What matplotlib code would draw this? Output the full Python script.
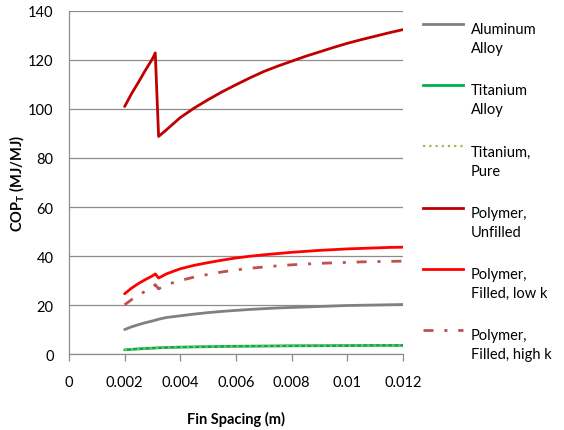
import matplotlib
matplotlib.use("Agg")
import matplotlib.pyplot as plt
from matplotlib.lines import Line2D

plt.rcParams['font.family'] = ['Lato', 'DejaVu Sans']

# Fin spacing (m) and COP_T (MJ/MJ) for each fin material
x_main = [0.002, 0.00225, 0.0025, 0.00275, 0.003, 0.0031, 0.00322, 0.0035,
          0.004, 0.0045, 0.005, 0.0055, 0.006, 0.0065, 0.007, 0.0075,
          0.008, 0.0085, 0.009, 0.0095, 0.010, 0.0105, 0.011, 0.0115, 0.012]

aluminum_alloy = [10.0, 11.1, 12.0, 12.8, 13.5, 13.8, 14.2, 14.9,
                  15.6, 16.3, 16.9, 17.4, 17.8, 18.2, 18.5, 18.8,
                  19.0, 19.2, 19.4, 19.6, 19.8, 19.9, 20.0, 20.1, 20.2]
titanium_alloy = [1.7, 1.9, 2.1, 2.25, 2.4, 2.45, 2.55, 2.65,
                  2.8, 2.9, 3.0, 3.08, 3.15, 3.2, 3.25, 3.3,
                  3.35, 3.38, 3.4, 3.43, 3.45, 3.47, 3.5, 3.5, 3.5]
titanium_pure = [1.7, 1.9, 2.1, 2.25, 2.4, 2.45, 2.55, 2.65,
                 2.8, 2.9, 3.0, 3.08, 3.15, 3.2, 3.25, 3.3,
                 3.35, 3.38, 3.4, 3.43, 3.45, 3.47, 3.5, 3.5, 3.5]
polymer_unfilled = [101.0, 106.3, 111.0, 115.9, 120.5, 122.9, 88.8, 91.5,
                    96.5, 100.4, 103.8, 107.0, 109.9, 112.7, 115.3, 117.5,
                    119.5, 121.5, 123.3, 125.1, 126.8, 128.3, 129.7, 131.1, 132.4]
polymer_low_k = [24.6, 26.9, 28.8, 30.4, 31.9, 32.7, 31.0, 32.7,
                 34.8, 36.2, 37.3, 38.3, 39.2, 39.9, 40.5, 41.0,
                 41.5, 41.9, 42.3, 42.6, 42.9, 43.1, 43.3, 43.5, 43.6]
polymer_high_k = [20.1, 22.2, 24.0, 25.7, 27.3, 28.3, 26.6, 28.3,
                  30.0, 31.4, 32.5, 33.5, 34.3, 35.0, 35.5, 36.0,
                  36.4, 36.7, 37.0, 37.2, 37.4, 37.6, 37.7, 37.8, 37.9]

labels = ["Aluminum\nAlloy", "Titanium\nAlloy", "Titanium,\nPure",
          "Polymer,\nUnfilled", "Polymer,\nFilled, low k", "Polymer,\nFilled, high k"]
colors = ["#808080", "#00B050", "#9BBB59", "#C00000", "#FF0000", "#C0504D"]
styles = ["-", "-", (0, (1, 1.8)), "-", "-", (0, (3.6, 3.9, 1.1, 3.9))]
widths = [2.0, 2.0, 1.6, 2.0, 2.0, 2.0]
series = [aluminum_alloy, titanium_alloy, titanium_pure,
          polymer_unfilled, polymer_low_k, polymer_high_k]

x_ticks = [0, 0.002, 0.004, 0.006, 0.008, 0.01, 0.012]
x_tick_labels = ["0", "0.002", "0.004", "0.006", "0.008", "0.01", "0.012"]
y_ticks = [0, 20, 40, 60, 80, 100, 120, 140]

fig = plt.figure(figsize=(5.64, 4.31), dpi=100)
ax = fig.add_axes([0.1223, 0.1763, 0.5922, 0.7959])

for ys, c, ls, lw in zip(series, colors, styles, widths):
    ax.plot(x_main, ys, color=c, linestyle=ls, linewidth=lw,
            solid_capstyle='round', solid_joinstyle='round',
            dash_capstyle='butt', zorder=3)

ax.set_xlim(0, 0.012)
ax.set_ylim(0, 140)
ax.set_xticks(x_ticks)
ax.set_xticklabels(x_tick_labels)
ax.set_yticks(y_ticks)
ax.grid(axis='y', color='#8c8c8c', linewidth=0.9, zorder=0)
ax.set_axisbelow(True)
for s in ('top', 'right'):
    ax.spines[s].set_visible(False)
for s in ('left', 'bottom'):
    ax.spines[s].set_color('#8c8c8c')
    ax.spines[s].set_linewidth(0.9)
ax.tick_params(axis='y', length=0, pad=11, labelsize=10.5, colors='#000000')
ax.tick_params(axis='x', length=5, width=0.9, color='#8c8c8c', pad=10,
               labelsize=10.5)

ax.set_xlabel("Fin Spacing (m)", fontsize=10.5, fontweight='bold', labelpad=16)
ax.set_ylabel(r"COP$_\mathregular{T}$ (MJ/MJ)", fontsize=10.5,
              fontweight='bold', labelpad=1)

# Legend drawn on the right side, handle aligned with the first text line
leg_top = 1 - 25 / 431
leg_step = 61.2 / 431
x0, x1, xt = 423 / 564, 463 / 564, 471 / 564
for i, (lab, c, ls, lw) in enumerate(zip(labels, colors, styles, widths)):
    yy = leg_top - i * leg_step
    fig.add_artist(Line2D([x0, x1], [yy, yy], transform=fig.transFigure,
                          color=c, linestyle=ls, linewidth=lw,
                          dash_capstyle='butt'))
    fig.text(xt, yy + 0.004, lab, fontsize=10.5, va='top', ha='left',
             linespacing=1.45, transform=fig.transFigure)

fig.savefig("out.png", dpi=100)
